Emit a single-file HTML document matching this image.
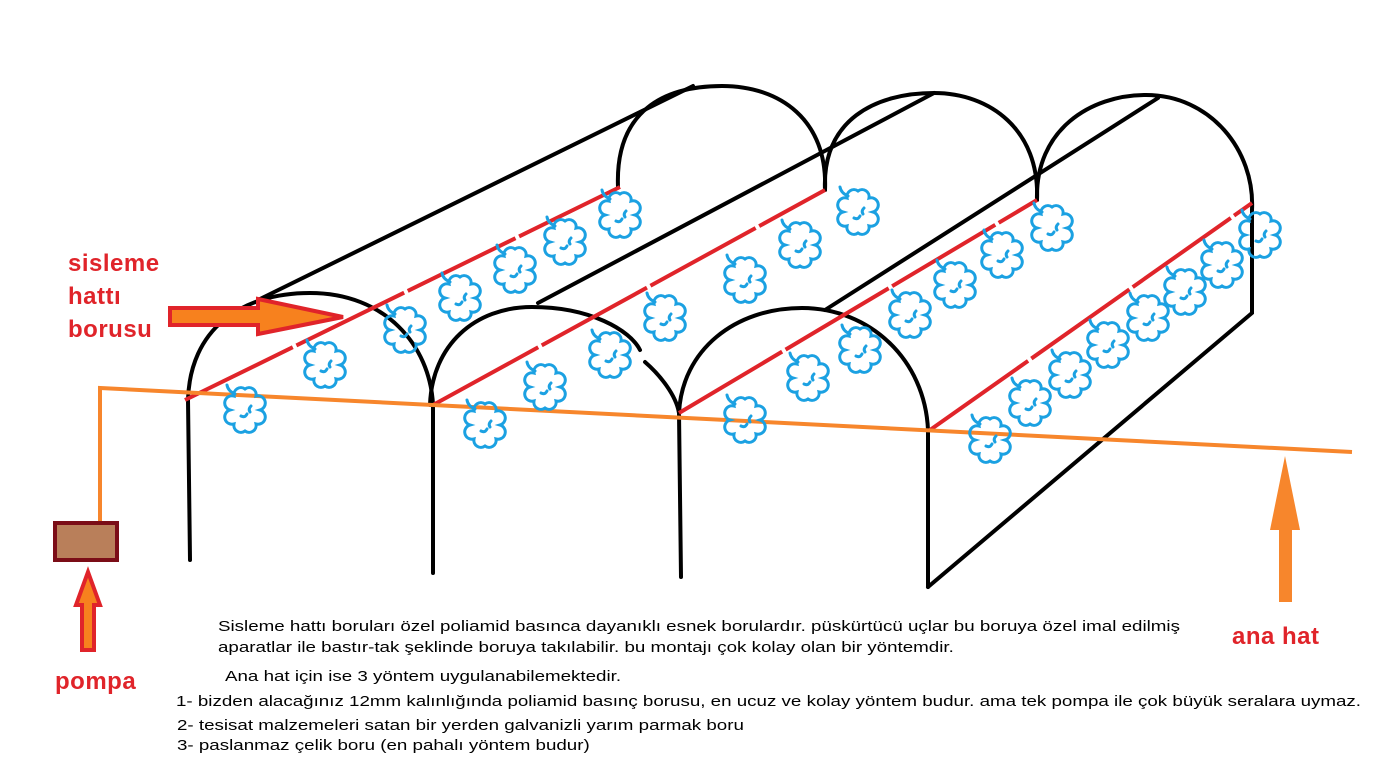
<!DOCTYPE html>
<html><head><meta charset="utf-8"><style>
body{margin:0;background:#fff;width:1380px;height:759px;overflow:hidden;position:relative;font-family:"Liberation Sans",Arial,sans-serif}
.t{position:absolute;font-size:15px;color:#000;white-space:nowrap;line-height:18px;transform:scaleX(1.25);transform-origin:0 0}
.r{position:absolute;color:#e0242a;font-weight:bold;font-size:24px;line-height:33px;letter-spacing:0.5px}
</style></head><body>
<svg width="1380" height="759" style="position:absolute;left:0;top:0">
<defs>
<g id="c" fill="none" stroke="#1ba1e2" stroke-width="3" stroke-linecap="round">
<path d="M15,0 A7 7 0 0 1 11,14 A7 7 0 0 1 0,21 A7 7 0 0 1 -11,14 A7 7 0 0 1 -15,0 A7 7 0 0 1 -11,-14 A7 7 0 0 1 0,-21 A7 7 0 0 1 11,-14 A7 7 0 0 1 15,0 Z"/>
<path d="M-10,-16 q-7,-3 -8,-9 M-4,6 q4,2 6,-2 M6,-4 q-3,3 -1,6"/>
</g>
</defs>
<g fill="none" stroke="#000" stroke-width="4" stroke-linecap="round">
<path d="M618,187 C615,110 665,86 722,86 C780,86 828,120 825,190"/>
<path d="M825,190 C822,120 875,93 934,93 C990,93 1040,130 1037,200"/>
<path d="M1037,200 C1035,130 1090,95 1146,95 C1210,95 1255,150 1252,210 L1252,313 L928,587"/>
<path d="M258,300 L693,86"/>
<path d="M538,303 L934,93"/>
<path d="M825,310 L1158,98"/>
<path d="M190,560 L188,400 C190,330 240,293 310,293 C385,293 430,345 433,405 L433,573"/>
<path d="M430,405 C432,345 475,307 532,307 C590,307 630,330 640,350"/>
<path d="M645,362 C660,375 676,395 679,413 L681,577"/>
<path d="M679,413 C682,350 735,308 802,308 C870,308 925,360 928,430 L928,587"/>
</g>
<g stroke="#e0242a" stroke-width="4" fill="none" stroke-dasharray="120,4">
<path d="M185,400 L620,187"/>
<path d="M433,405 L825,190"/>
<path d="M679,413 L1037,200"/>
<path d="M930,430 L1252,203"/>
</g>
<g stroke="#f7862c" stroke-width="4" fill="none">
<path d="M100,522 L100,388 L1352,452"/>
</g>
<rect x="55" y="523" width="62" height="37" fill="#b97f5a" stroke="#7b0d17" stroke-width="4"/>
<g>
<use href="#c" x="245" y="410"/><use href="#c" x="325" y="365"/><use href="#c" x="405" y="330"/><use href="#c" x="460" y="298"/><use href="#c" x="515" y="270"/><use href="#c" x="565" y="242"/><use href="#c" x="620" y="215"/>
<use href="#c" x="485" y="425"/><use href="#c" x="545" y="387"/><use href="#c" x="610" y="355"/><use href="#c" x="665" y="318"/><use href="#c" x="745" y="280"/><use href="#c" x="800" y="245"/><use href="#c" x="858" y="212"/>
<use href="#c" x="745" y="420"/><use href="#c" x="808" y="378"/><use href="#c" x="860" y="350"/><use href="#c" x="910" y="315"/><use href="#c" x="955" y="285"/><use href="#c" x="1002" y="255"/><use href="#c" x="1052" y="228"/>
<use href="#c" x="990" y="440"/><use href="#c" x="1030" y="403"/><use href="#c" x="1070" y="375"/><use href="#c" x="1108" y="345"/><use href="#c" x="1148" y="318"/><use href="#c" x="1185" y="292"/><use href="#c" x="1222" y="265"/><use href="#c" x="1260" y="235"/>
</g>
<path d="M170,308 L258,308 L258,299 L343,317 L258,334 L258,325 L170,325 Z" fill="#f7811e" stroke="#e0242a" stroke-width="4"/>
<path d="M82,650 L82,605 L76,605 L88,572 L100,605 L94,605 L94,650 Z" fill="#f7811e" stroke="#e0242a" stroke-width="4"/>
<path d="M1279,602 L1279,530 L1270,530 L1285,456 L1300,530 L1292,530 L1292,602 Z" fill="#f7862c"/>
</svg>
<div class="r" style="left:68px;top:247px">sisleme<br>hattı<br>borusu</div>
<div class="r" style="left:55px;top:665px">pompa</div>
<div class="r" style="left:1232px;top:620px">ana hat</div>
<div class="t" style="left:218px;top:618px">Sisleme hattı boruları özel poliamid basınca dayanıklı esnek borulardır. püskürtücü uçlar bu boruya özel imal edilmiş</div>
<div class="t" style="left:218px;top:639px">aparatlar ile bastır-tak şeklinde boruya takılabilir. bu montajı çok kolay olan bir yöntemdir.</div>
<div class="t" style="left:225px;top:668px">Ana hat için ise 3 yöntem uygulanabilemektedir.</div>
<div class="t" style="left:176px;top:693px">1- bizden alacağınız 12mm kalınlığında poliamid basınç borusu, en ucuz ve kolay yöntem budur. ama tek pompa ile çok büyük seralara uymaz.</div>
<div class="t" style="left:177px;top:717px">2- tesisat malzemeleri satan bir yerden galvanizli yarım parmak boru</div>
<div class="t" style="left:177px;top:737px">3- paslanmaz çelik boru (en pahalı yöntem budur)</div>
</body></html>
